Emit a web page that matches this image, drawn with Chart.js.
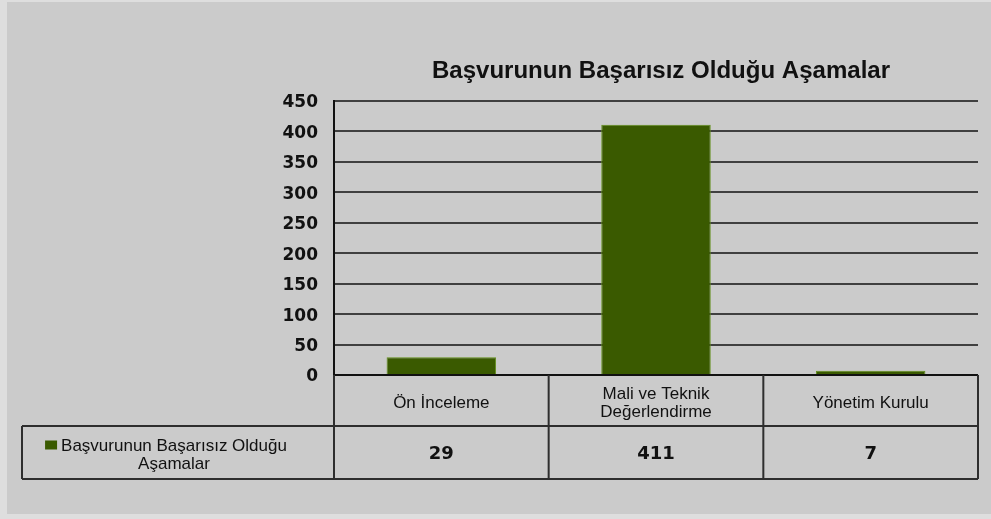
<!DOCTYPE html>
<html>
<head>
<meta charset="utf-8">
<script src="https://cdn.jsdelivr.net/npm/chart.js@4/dist/chart.umd.min.js"></script>
<style>
  html, body { margin: 0; padding: 0; background: #dedede; }
  #wrap { width: 991px; height: 519px; position: relative; }
</style>
</head>
<body>
<div id="wrap"><canvas id="chart" width="991" height="519"></canvas></div>
<script>
/* Başvurunun Başarısız Olduğu Aşamalar — bar chart with data table */

const TITLE = "Başvurunun Başarısız Olduğu Aşamalar";
const SERIES_NAME = ["Başvurunun Başarısız Olduğu", "Aşamalar"];
const CATEGORIES = [["Ön İnceleme"], ["Mali ve Teknik", "Değerlendirme"], ["Yönetim Kurulu"]];
const VALUES = [29, 411, 7];
const Y_TICKS = [0, 50, 100, 150, 200, 250, 300, 350, 400, 450];

const BAR_COLOR = "#3a5a00";
const BAR_EDGE = "#62901a";
const LINE_COLOR = "#2e2e2e";
const TEXT_COLOR = "#111111";

/* ---------- Background + title ---------- */

const backgroundPlugin = {
    id: "panelBg",
    beforeDraw(chart) {
        const c = chart.ctx;
        c.save();
        c.fillStyle = "#dedede";
        c.fillRect(0, 0, chart.width, chart.height);
        c.fillStyle = "#cbcbcb";
        c.fillRect(7, 2, chart.width - 7, chart.height - 7);
        c.restore();
    },
    afterDraw(chart) {
        // title is a little stretched sideways in the original
        const c = chart.ctx;
        const area = chart.chartArea;
        c.save();
        c.fillStyle = TEXT_COLOR;
        c.font = "bold 23px 'Liberation Sans', Arial, sans-serif";
        c.textAlign = "center";
        c.textBaseline = "alphabetic";
        c.translate((area.left + area.right) / 2 + 5, 78);
        c.scale(1.045, 1);
        c.fillText(TITLE, 0, 0);
        c.restore();
    }
};

/* ---------- Data table under the plot ---------- */

const dataTablePlugin = {
    id: "dataTable",
    afterDraw(chart) {
        const c = chart.ctx;
        const area = chart.chartArea;
        const x = chart.scales.x;
        const row1Top = area.bottom;
        const row2Top = area.bottom + 51;
        const row2Bottom = area.bottom + 104;
        const tableLeft = 22;
        const colW = (area.right - area.left) / CATEGORIES.length;

        c.save();
        c.strokeStyle = LINE_COLOR;
        c.lineWidth = 2;
        c.beginPath();
        // vertical lines
        c.moveTo(area.left, row1Top); c.lineTo(area.left, row2Bottom);
        for (let i = 0; i < CATEGORIES.length; i++) {
            const edge = x.getPixelForValue(i) + colW / 2;
            c.moveTo(edge, row1Top); c.lineTo(edge, row2Bottom);
        }
        c.moveTo(tableLeft, row2Top); c.lineTo(tableLeft, row2Bottom);
        // horizontal lines
        c.moveTo(tableLeft, row2Top); c.lineTo(area.right, row2Top);
        c.moveTo(tableLeft, row2Bottom); c.lineTo(area.right, row2Bottom);
        c.stroke();

        c.fillStyle = TEXT_COLOR;
        c.textAlign = "center";
        c.textBaseline = "middle";

        // category labels
        c.font = "17px 'Liberation Sans', Arial, sans-serif";
        CATEGORIES.forEach((lines, i) => {
            const cx = x.getPixelForValue(i);
            const mid = (row1Top + row2Top) / 2 + 3;
            lines.forEach((ln, j) => {
                const y = mid + (j - (lines.length - 1) / 2) * 18;
                c.fillText(ln, cx, y);
            });
        });

        // values
        c.font = "bold 18px 'DejaVu Sans', Verdana, sans-serif";
        VALUES.forEach((v, i) => {
            c.fillText(String(v), x.getPixelForValue(i), (row2Top + row2Bottom) / 2 + 2);
        });

        // legend key + series name
        const legendX = 174;
        const mid = (row2Top + row2Bottom) / 2;
        c.font = "17px 'Liberation Sans', Arial, sans-serif";
        c.fillText(SERIES_NAME[0], legendX, mid - 6);
        c.fillText(SERIES_NAME[1], legendX, mid + 12);
        const w0 = c.measureText(SERIES_NAME[0]).width;
        c.fillStyle = BAR_COLOR;
        c.fillRect(legendX - w0 / 2 - 16, mid - 12, 12, 9);
        c.restore();
    }
};

/* ---------- Chart ---------- */

new Chart(document.getElementById("chart"), {
    type: "bar",
    data: {
        labels: CATEGORIES.map(l => l.join(" ")),
        datasets: [{
            label: SERIES_NAME.join(" "),
            data: VALUES,
            backgroundColor: BAR_COLOR,
            borderColor: BAR_EDGE,
            borderWidth: 1,
            categoryPercentage: 1,
            barPercentage: 0.51,
        }]
    },
    options: {
        responsive: false,
        animation: false,
        layout: { padding: { left: 0, right: 13, top: 101, bottom: 144 } },
        plugins: {
            legend: { display: false },
            tooltip: { enabled: false },
            title: { display: false },
        },
        scales: {
            x: { display: false },
            y: {
                min: 0,
                max: 450,
                afterFit: (s) => { s.width = 334; },
                afterBuildTicks: (s) => { s.ticks = Y_TICKS.map(v => ({ value: v })); },
                ticks: {
                    color: TEXT_COLOR,
                    padding: 16,
                    labelOffset: 2,
                    font: { family: "'DejaVu Sans', Verdana, sans-serif", size: 17, weight: "bold" },
                },
                grid: {
                    drawTicks: false,
                    color: (ctx) => ctx.tick && ctx.tick.value === 0 ? "#111111" : "#404040",
                    lineWidth: 2,
                },
                border: { display: true, color: "#111111", width: 2 },
            }
        }
    },
    plugins: [backgroundPlugin, dataTablePlugin]
});
</script>
</body>
</html>
